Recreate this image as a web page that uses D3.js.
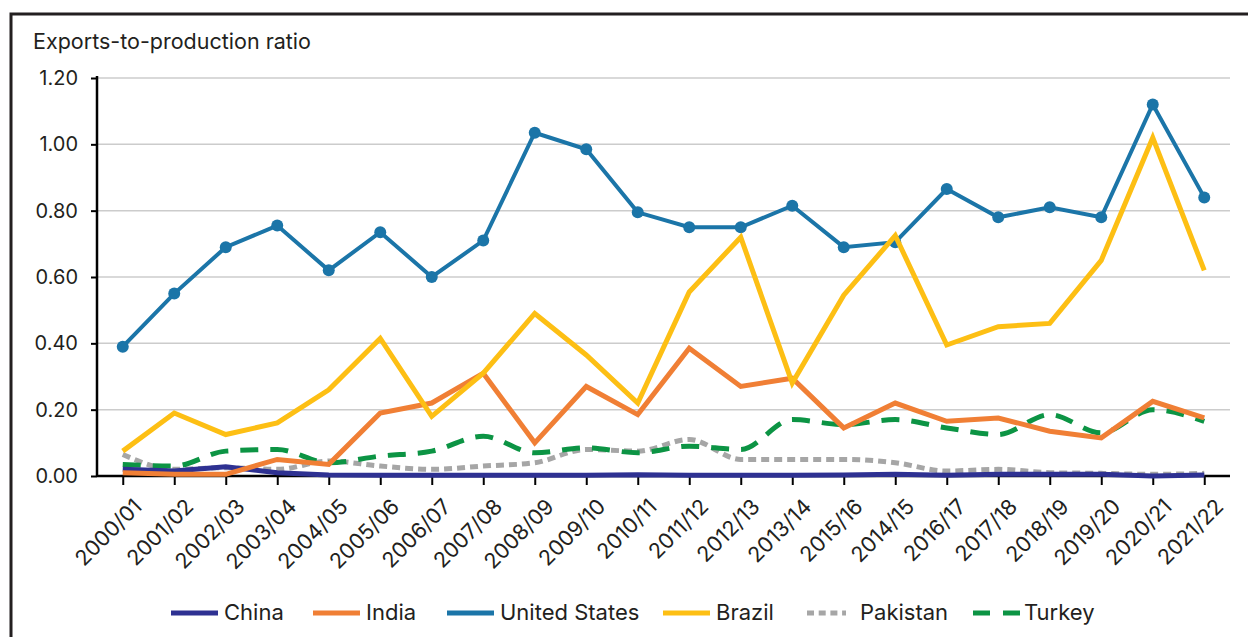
<!DOCTYPE html>
<html>
<head>
<meta charset="utf-8">
<script src="https://cdn.jsdelivr.net/npm/d3@7"></script>
<style>
  body { margin: 0; background: #fff; }
  text { font-family: Inter, Roboto, sans-serif; fill: #231f20; }
</style>
</head>
<body>
<div class="chart"></div>
<script>
// data
let seasons = ["2000/01","2001/02","2002/03","2003/04","2004/05","2005/06","2006/07","2007/08",
  "2008/09","2009/10","2010/11","2011/12","2012/13","2013/14","2015/16","2014/15","2016/17",
  "2017/18","2018/19","2019/20","2020/21","2021/22"];

let china    = [0.02,0.015,0.028,0.01,0.003,0.002,0.002,0.002,0.002,0.002,0.004,0.002,0.002,0.002,0.003,0.005,0.002,0.005,0.005,0.005,0.0,0.003];
let india    = [0.01,0.005,0.005,0.05,0.035,0.19,0.22,0.31,0.10,0.27,0.185,0.385,0.27,0.295,0.145,0.22,0.165,0.175,0.135,0.115,0.225,0.175];
let usa      = [0.39,0.55,0.69,0.755,0.62,0.735,0.60,0.71,1.035,0.985,0.795,0.75,0.75,0.815,0.69,0.705,0.865,0.78,0.81,0.78,1.12,0.84];
let brazil   = [0.075,0.19,0.125,0.16,0.26,0.415,0.18,0.31,0.49,0.365,0.22,0.555,0.72,0.28,0.545,0.725,0.395,0.45,0.46,0.65,1.02,0.62];
let pakistan = [0.065,0.02,0.025,0.02,0.045,0.03,0.02,0.03,0.04,0.08,0.075,0.11,0.05,0.05,0.05,0.04,0.015,0.02,0.01,0.008,0.005,0.008];
let turkey   = [0.035,0.03,0.075,0.08,0.04,0.06,0.075,0.12,0.07,0.085,0.07,0.09,0.08,0.17,0.155,0.17,0.145,0.125,0.185,0.13,0.20,0.165];

let yTicks = [0, 0.2, 0.4, 0.6, 0.8, 1.0, 1.2];

let series = [
  { name: "China",         values: china,    color: "#2e3192", width: 5, dash: null,    keyDash: null,    smooth: false, dots: false },
  { name: "India",         values: india,    color: "#f07f35", width: 5, dash: null,    keyDash: null,    smooth: false, dots: false },
  { name: "United States", values: usa,      color: "#1b75a8", width: 4, dash: null,    keyDash: null,    smooth: false, dots: true },
  { name: "Brazil",        values: brazil,   color: "#fdbf14", width: 5, dash: null,    keyDash: null,    smooth: false, dots: false },
  { name: "Pakistan",      values: pakistan, color: "#a6a6a6", width: 5, dash: "8,5",   keyDash: "7,4.7", smooth: true,  dots: false },
  { name: "Turkey",        values: turkey,   color: "#0c9444", width: 5, dash: "18,12", keyDash: "17,13", smooth: true,  dots: false }
];

let svgW = 1248, svgH = 637;
let plot = { left: 97, right: 1230, top: 78, bottom: 476 };
let font = "Inter, Roboto, sans-serif";

let svg = d3.select(".chart").append("svg")
  .attr("width", svgW)
  .attr("height", svgH);

// outer frame (runs off the right and bottom edges)
svg.append("rect")
  .attr("x", 11).attr("y", 14)
  .attr("width", 1300).attr("height", 700)
  .attr("fill", "none")
  .attr("stroke", "#231f20")
  .attr("stroke-width", 3);

let x = d3.scalePoint()
  .domain(seasons)
  .range([plot.left, plot.right])
  .padding(0.5);

let y = d3.scaleLinear()
  .domain([0, 1.2])
  .range([plot.bottom, plot.top]);

// gridlines
svg.append("g")
  .selectAll("line")
  .data(yTicks.filter(d => d > 0))
  .enter()
  .append("line")
  .attr("x1", plot.left).attr("x2", plot.right)
  .attr("y1", d => y(d)).attr("y2", d => y(d))
  .attr("stroke", "#cccccc")
  .attr("stroke-width", 1.5);

// y axis
let yAxis = svg.append("g")
  .attr("transform", `translate(${plot.left},0)`)
  .call(d3.axisLeft(y).tickValues(yTicks).tickFormat(d3.format(".2f")).tickSize(6).tickPadding(13));
yAxis.select(".domain").attr("stroke", "#000").attr("stroke-width", 2.5)
  .attr("d", `M0,${y(1.2) - 2}V${plot.bottom}`);
yAxis.selectAll(".tick line").attr("stroke", "#000").attr("stroke-width", 2);
yAxis.selectAll(".tick text").attr("font-size", 20).attr("fill", "#231f20")
  .style("font-family", font);

// x axis
let xAxis = svg.append("g")
  .attr("transform", `translate(0,${plot.bottom})`)
  .call(d3.axisBottom(x).tickSize(9).tickSizeOuter(0));
xAxis.select(".domain").attr("stroke", "#000").attr("stroke-width", 2.5)
  .attr("d", `M${plot.left},0H${plot.right}`);
xAxis.selectAll(".tick line").attr("stroke", "#000").attr("stroke-width", 2);
xAxis.selectAll(".tick text")
  .attr("font-size", 21.5)
  .attr("fill", "#231f20")
  .style("font-family", font)
  .attr("text-anchor", "end")
  .attr("dy", null)
  .attr("y", 0)
  .attr("transform", "translate(20,32) rotate(-45)");

// axis title
svg.append("text")
  .attr("x", 33).attr("y", 49)
  .attr("font-size", 21.5)
  .text("Exports-to-production ratio");

// lines
let lineFor = s => d3.line()
  .x((d, i) => x(seasons[i]))
  .y(d => y(d))
  .curve(s.smooth ? d3.curveMonotoneX : d3.curveLinear);

let drawOrder = ["Pakistan", "Turkey", "China", "India", "United States", "Brazil"];
drawOrder.forEach(function(name) {
  let s = series.find(d => d.name === name);
  svg.append("path")
    .datum(s.values)
    .attr("d", lineFor(s))
    .attr("fill", "none")
    .attr("stroke", s.color)
    .attr("stroke-width", s.width)
    .attr("stroke-dasharray", s.dash)
    .attr("stroke-linejoin", "miter");
  if (s.dots) {
    svg.append("g").selectAll("circle")
      .data(s.values)
      .enter()
      .append("circle")
      .attr("cx", (d, i) => x(seasons[i]))
      .attr("cy", d => y(d))
      .attr("r", 6)
      .attr("fill", s.color);
  }
});

// legend
let legendX = [171, 313, 447, 663, 807, 973];
let legend = svg.append("g");
series.forEach(function(s, i) {
  let g = legend.append("g").attr("transform", `translate(${legendX[i]},613)`);
  g.append("line")
    .attr("x1", 0).attr("x2", s.name === "Pakistan" ? 39 : 47)
    .attr("y1", 0).attr("y2", 0)
    .attr("stroke", s.color)
    .attr("stroke-width", 5)
    .attr("stroke-dasharray", s.keyDash);
  g.append("text")
    .attr("x", s.name === "Turkey" ? 51 : 53)
    .attr("y", 7)
    .attr("font-size", 22)
    .text(s.name);
});
</script>
</body>
</html>
